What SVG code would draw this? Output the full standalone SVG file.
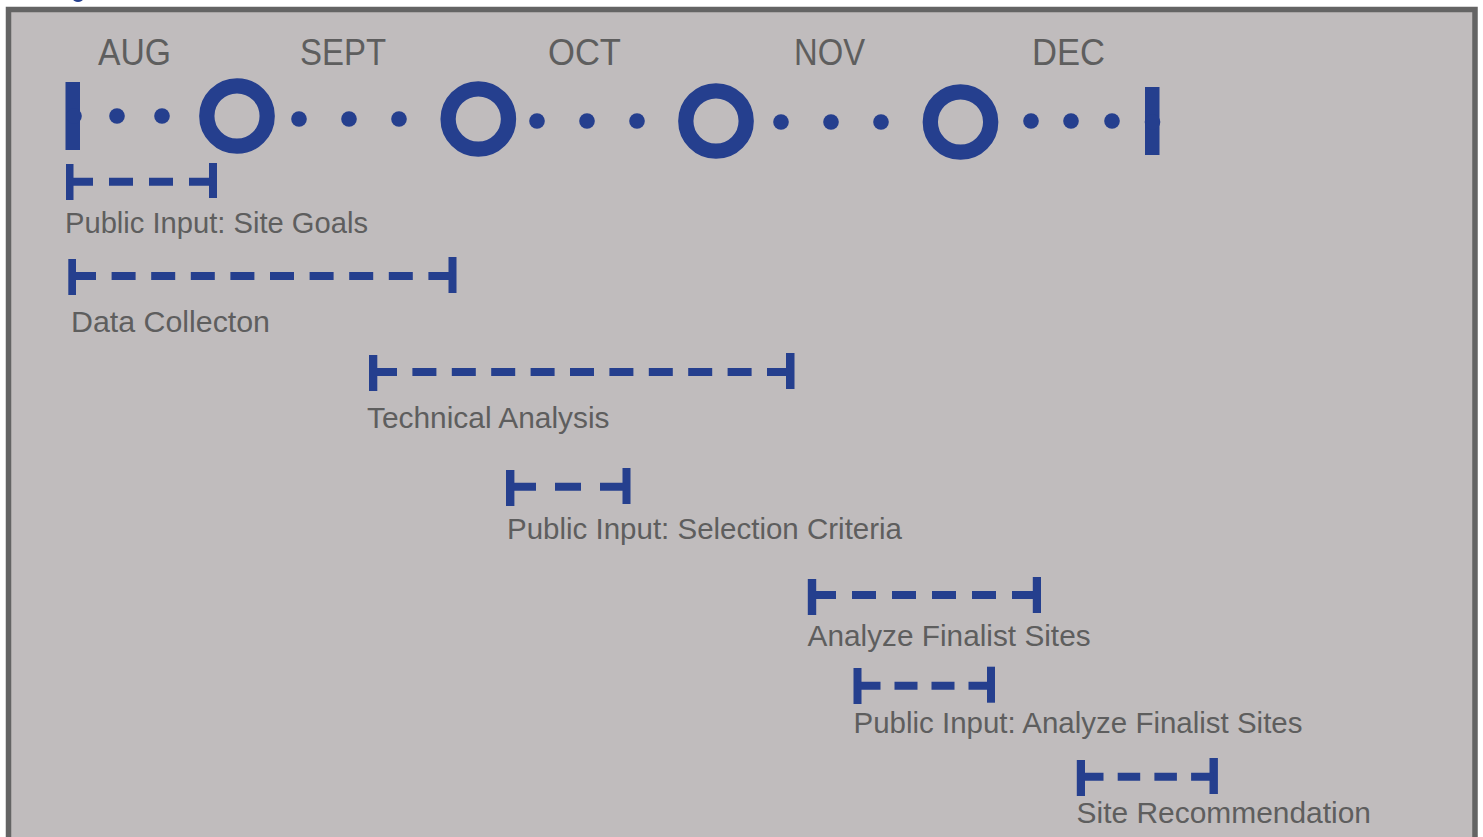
<svg xmlns="http://www.w3.org/2000/svg" width="1483" height="837" viewBox="0 0 1483 837">
<style>
.lbl{font-family:"Liberation Sans",Arial,sans-serif;fill:#5e5e5e;lengthAdjust:spacingAndGlyphs}
.mon{font-size:36px}
.task{font-size:30px}
.ring{fill:none;stroke:#253f8e;stroke-width:15.3}
.dot{fill:#253f8e}
.bar{fill:#253f8e}
.dash{stroke:#253f8e;stroke-width:8;fill:none}
.tick{fill:#253f8e}
</style>
<rect x="0" y="0" width="1483" height="837" fill="#ffffff"/>
<ellipse cx="78" cy="-1" rx="5" ry="3" fill="#253f8e"/>
<rect id="frame" x="8.5" y="9.5" width="1466.5" height="900" fill="#c0bcbd" stroke="#646464" stroke-width="5.5"/>

<g id="months">
<text class="lbl mon" x="98" y="65" textLength="73" lengthAdjust="spacingAndGlyphs">AUG</text>
<text class="lbl mon" x="300" y="65" textLength="86" lengthAdjust="spacingAndGlyphs">SEPT</text>
<text class="lbl mon" x="548" y="65" textLength="73" lengthAdjust="spacingAndGlyphs">OCT</text>
<text class="lbl mon" x="794" y="65" textLength="71" lengthAdjust="spacingAndGlyphs">NOV</text>
<text class="lbl mon" x="1032" y="65" textLength="73" lengthAdjust="spacingAndGlyphs">DEC</text>
</g>

<g id="connectors">
<circle class="dot" cx="117" cy="116" r="7.8"/>
<circle class="dot" cx="162" cy="116" r="7.8"/>
<circle class="dot" cx="299" cy="119" r="7.8"/>
<circle class="dot" cx="349" cy="119" r="7.8"/>
<circle class="dot" cx="399" cy="119" r="7.8"/>
<circle class="dot" cx="537" cy="121" r="7.8"/>
<circle class="dot" cx="587" cy="121" r="7.8"/>
<circle class="dot" cx="637" cy="121" r="7.8"/>
<circle class="dot" cx="781" cy="122" r="7.8"/>
<circle class="dot" cx="831" cy="122" r="7.8"/>
<circle class="dot" cx="881" cy="122" r="7.8"/>
<circle class="dot" cx="1031" cy="121" r="7.8"/>
<circle class="dot" cx="1071" cy="121" r="7.8"/>
<circle class="dot" cx="1112" cy="121" r="7.8"/>
</g>

<g id="start">
<rect class="bar" x="65.5" y="82" width="14.5" height="68"/>
<circle class="dot" cx="74" cy="116" r="7.8"/>
</g>
<g id="m-sept"><circle class="ring" cx="237" cy="116" r="30.2"/></g>
<g id="m-oct"><circle class="ring" cx="478.3" cy="119" r="30.2"/></g>
<g id="m-nov"><circle class="ring" cx="716" cy="121" r="30.2"/></g>
<g id="m-dec"><circle class="ring" cx="960.5" cy="122" r="30.2"/></g>
<g id="end">
<rect class="bar" x="1145" y="87" width="14.5" height="68"/>
<circle class="dot" cx="1152.5" cy="122" r="7.8"/>
</g>

<g id="task-site-goals">
<rect class="tick" x="66" y="164" width="7.5" height="36"/>
<rect class="tick" x="209" y="163" width="8" height="35"/>
<line class="dash" x1="69" y1="181.7" x2="213" y2="181.7" stroke-dasharray="24 16"/>
<text class="lbl task" x="65" y="232.7" textLength="303" lengthAdjust="spacingAndGlyphs">Public Input: Site Goals</text>
</g>

<g id="task-data">
<rect class="tick" x="68.3" y="259" width="7.7" height="36"/>
<rect class="tick" x="448.5" y="257" width="8" height="36"/>
<line class="dash" x1="72" y1="276" x2="452.5" y2="276" stroke-dasharray="24 15.6"/>
<text class="lbl task" x="71" y="331.7" textLength="199" lengthAdjust="spacingAndGlyphs">Data Collecton</text>
</g>

<g id="task-technical">
<rect class="tick" x="369" y="355" width="8.3" height="36"/>
<rect class="tick" x="786" y="353" width="8.5" height="36"/>
<line class="dash" x1="373" y1="372" x2="790" y2="372" stroke-dasharray="24 15.4"/>
<text class="lbl task" x="367" y="428.3" textLength="242.5" lengthAdjust="spacingAndGlyphs">Technical Analysis</text>
</g>

<g id="task-selection">
<rect class="tick" x="506" y="470" width="8.4" height="36"/>
<rect class="tick" x="622.5" y="468" width="8" height="36"/>
<line class="dash" x1="510" y1="486.7" x2="626.5" y2="486.7" stroke-dasharray="26 19"/>
<text class="lbl task" x="507" y="539.3" textLength="395" lengthAdjust="spacingAndGlyphs">Public Input: Selection Criteria</text>
</g>

<g id="task-analyze">
<rect class="tick" x="807.8" y="579" width="8.4" height="36"/>
<rect class="tick" x="1032.8" y="577" width="8.2" height="36"/>
<line class="dash" x1="812" y1="595" x2="1037" y2="595" stroke-dasharray="24 16"/>
<text class="lbl task" x="807.6" y="646" textLength="283" lengthAdjust="spacingAndGlyphs">Analyze Finalist Sites</text>
</g>

<g id="task-public-analyze">
<rect class="tick" x="853.5" y="668" width="8" height="36"/>
<rect class="tick" x="987" y="666.7" width="8" height="36"/>
<line class="dash" x1="857.5" y1="685.7" x2="991" y2="685.7" stroke-dasharray="23 14"/>
<text class="lbl task" x="853.5" y="733.3" textLength="449" lengthAdjust="spacingAndGlyphs">Public Input: Analyze Finalist Sites</text>
</g>

<g id="task-recommendation">
<rect class="tick" x="1076.8" y="760" width="8.2" height="36"/>
<rect class="tick" x="1209.5" y="758" width="8.4" height="36"/>
<line class="dash" x1="1081" y1="776.7" x2="1213.7" y2="776.7" stroke-dasharray="22.5 14.2"/>
<text class="lbl task" x="1076.6" y="822.7" textLength="294.4" lengthAdjust="spacingAndGlyphs">Site Recommendation</text>
</g>
</svg>
